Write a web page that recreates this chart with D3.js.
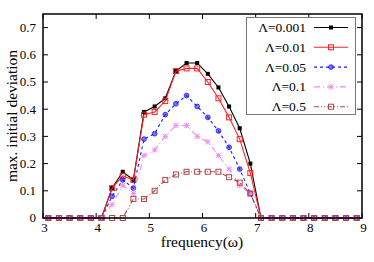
<!DOCTYPE html>
<html>
<head>
<meta charset="utf-8">
<script src="https://cdn.jsdelivr.net/npm/d3@7"></script>
<style>
  body { margin: 0; background: #fff; }
  text { font-family: "Liberation Serif", "DejaVu Serif", serif; }
</style>
</head>
<body>
<script>
// frequency values (omega)
var freq = [3.1, 3.3, 3.5, 3.7, 3.9, 4.1, 4.3, 4.5, 4.7, 4.9,
            5.1, 5.3, 5.5, 5.7, 5.9, 6.1, 6.3, 6.5, 6.7, 6.9,
            7.1, 7.3, 7.5, 7.7, 7.9, 8.1, 8.3, 8.5, 8.7, 8.9];

// max. initial deviation for each Lambda
var dev0001 = [0, 0, 0, 0, 0, 0, 0.11, 0.17, 0.14, 0.39, 0.41, 0.44, 0.54, 0.57, 0.57,
               0.53, 0.48, 0.41, 0.33, 0.20, 0, 0, 0, 0, 0, 0, 0, 0, 0, 0];
var dev001  = [0, 0, 0, 0, 0, 0, 0.11, 0.155, 0.14, 0.38, 0.39, 0.43, 0.54, 0.55, 0.55,
               0.50, 0.44, 0.37, 0.29, 0.165, 0, 0, 0, 0, 0, 0, 0, 0, 0, 0];
var dev005  = [0, 0, 0, 0, 0, 0, 0.08, 0.14, 0.11, 0.29, 0.31, 0.38, 0.42, 0.45, 0.41,
               0.37, 0.32, 0.26, 0.18, 0.09, 0, 0, 0, 0, 0, 0, 0, 0, 0, 0];
var dev01   = [0, 0, 0, 0, 0, 0, 0.05, 0.12, 0.09, 0.23, 0.25, 0.30, 0.34, 0.34, 0.30,
               0.28, 0.23, 0.18, 0.12, 0.09, 0, 0, 0, 0, 0, 0, 0, 0, 0, 0];
var dev05   = [0, 0, 0, 0, 0, 0, 0, 0, 0.07, 0.07, 0.10, 0.14, 0.16, 0.17, 0.17,
               0.17, 0.17, 0.15, 0.13, 0.09, 0, 0, 0, 0, 0, 0, 0, 0, 0, 0];

var labels = ["\u039B=0.001", "\u039B=0.01", "\u039B=0.05", "\u039B=0.1", "\u039B=0.5"];
var xTicks = [3, 4, 5, 6, 7, 8, 9];
var yTicks = [0, 0.1, 0.2, 0.3, 0.4, 0.5, 0.6, 0.7];

var series = [
  {name: labels[0], values: dev0001, color: "#000000", dash: null,            marker: "fsquare"},
  {name: labels[1], values: dev001,  color: "#ff2020", dash: null,            marker: "osquare"},
  {name: labels[2], values: dev005,  color: "#1a1aff", dash: "3,3",           marker: "circle"},
  {name: labels[3], values: dev01,   color: "#f08cf0", dash: "6,3,1,3",       marker: "star"},
  {name: labels[4], values: dev05,   color: "#b04848", dash: "5,2,1,2,1,2",   marker: "osquare"}
];

var W = 374, H = 262;
// plot area edges (don't use "top" - clashes with window.top)
var pLeft = 43, pRight = 362, pTop = 14, pBottom = 218;

var svg = d3.select("body").append("svg")
  .attr("width", W)
  .attr("height", H);

var x = d3.scaleLinear().domain([3, 9]).range([pLeft, pRight]);
var y = d3.scaleLinear().domain([0, 0.75]).range([pBottom, pTop]);

// ticks, inward on all four sides
var tickLen = 5;
var axisG = svg.append("g");
xTicks.forEach(function (t) {
  axisG.append("line").attr("x1", x(t)).attr("x2", x(t))
    .attr("y1", pBottom).attr("y2", pBottom - tickLen).attr("stroke", "#000");
  axisG.append("line").attr("x1", x(t)).attr("x2", x(t))
    .attr("y1", pTop).attr("y2", pTop + tickLen).attr("stroke", "#000");
  axisG.append("text").attr("x", x(t) + 1.5).attr("y", 231.5)
    .attr("text-anchor", "middle").attr("font-size", 13).text(t);
});
yTicks.forEach(function (t) {
  axisG.append("line").attr("x1", pLeft).attr("x2", pLeft + tickLen)
    .attr("y1", y(t)).attr("y2", y(t)).attr("stroke", "#000");
  axisG.append("line").attr("x1", pRight).attr("x2", pRight - tickLen)
    .attr("y1", y(t)).attr("y2", y(t)).attr("stroke", "#000");
  axisG.append("text").attr("x", 36).attr("y", y(t) + 4.3)
    .attr("text-anchor", "end").attr("font-size", 13).text(t);
});

function drawMarker(g, type, color, cx, cy) {
  if (type === "fsquare") {
    g.append("rect").attr("x", cx - 2).attr("y", cy - 2).attr("width", 4).attr("height", 4)
      .attr("fill", color);
  } else if (type === "osquare") {
    g.append("rect").attr("x", cx - 2.5).attr("y", cy - 2.5).attr("width", 5).attr("height", 5)
      .attr("fill", "none").attr("stroke", color).attr("stroke-width", 1);
  } else if (type === "circle") {
    g.append("circle").attr("cx", cx).attr("cy", cy).attr("r", 2.4)
      .attr("fill", color).attr("fill-opacity", 0.6).attr("stroke", color).attr("stroke-width", 0.8);
  } else if (type === "star") {
    var s = 2.6;
    g.append("path")
      .attr("d", "M" + (cx - s) + "," + cy + "H" + (cx + s) +
                 "M" + cx + "," + (cy - s) + "V" + (cy + s) +
                 "M" + (cx - s) + "," + (cy - s) + "L" + (cx + s) + "," + (cy + s) +
                 "M" + (cx - s) + "," + (cy + s) + "L" + (cx + s) + "," + (cy - s))
      .attr("stroke", color).attr("stroke-width", 1).attr("fill", "none");
  }
}

var line = d3.line()
  .x(function (d) { return x(d[0]); })
  .y(function (d) { return y(d[1]); });

var plotG = svg.append("g");
series.forEach(function (s) {
  var pts = freq.map(function (f, i) { return [f, s.values[i]]; });
  plotG.append("path")
    .datum(pts)
    .attr("d", line)
    .attr("fill", "none")
    .attr("stroke", s.color)
    .attr("stroke-width", 1.1)
    .attr("stroke-dasharray", s.dash);
  pts.forEach(function (p) {
    drawMarker(plotG, s.marker, s.color, x(p[0]), y(p[1]));
  });
});

// legend
var lg = svg.append("g");
lg.append("rect").attr("x", 246.5).attr("y", 17.5).attr("width", 109).attr("height", 97)
  .attr("fill", "#fff").attr("stroke", "#777").attr("stroke-width", 1);
series.forEach(function (s, i) {
  var ly = 27.5 + i * 19.8;
  lg.append("text").attr("x", 306).attr("y", ly + 4.5)
    .attr("text-anchor", "end").attr("font-size", 13.5).text(s.name);
  lg.append("line").attr("x1", 314).attr("x2", 348).attr("y1", ly).attr("y2", ly)
    .attr("stroke", s.color).attr("stroke-width", 1.1).attr("stroke-dasharray", s.dash);
  drawMarker(lg, s.marker, s.color, 331, ly);
});

// frame
svg.append("rect").attr("x", pLeft).attr("y", pTop)
  .attr("width", pRight - pLeft).attr("height", pBottom - pTop)
  .attr("fill", "none").attr("stroke", "#000").attr("stroke-width", 1.5);

// axis labels
svg.append("text").attr("x", 202).attr("y", 246.5)
  .attr("text-anchor", "middle").attr("font-size", 15.5).text("frequency(\u03C9)");
svg.append("text")
  .attr("transform", "translate(17," + ((pTop + pBottom) / 2) + ")rotate(-90)")
  .attr("text-anchor", "middle").attr("font-size", 15.5).text("max. initial deviation");
</script>
</body>
</html>
